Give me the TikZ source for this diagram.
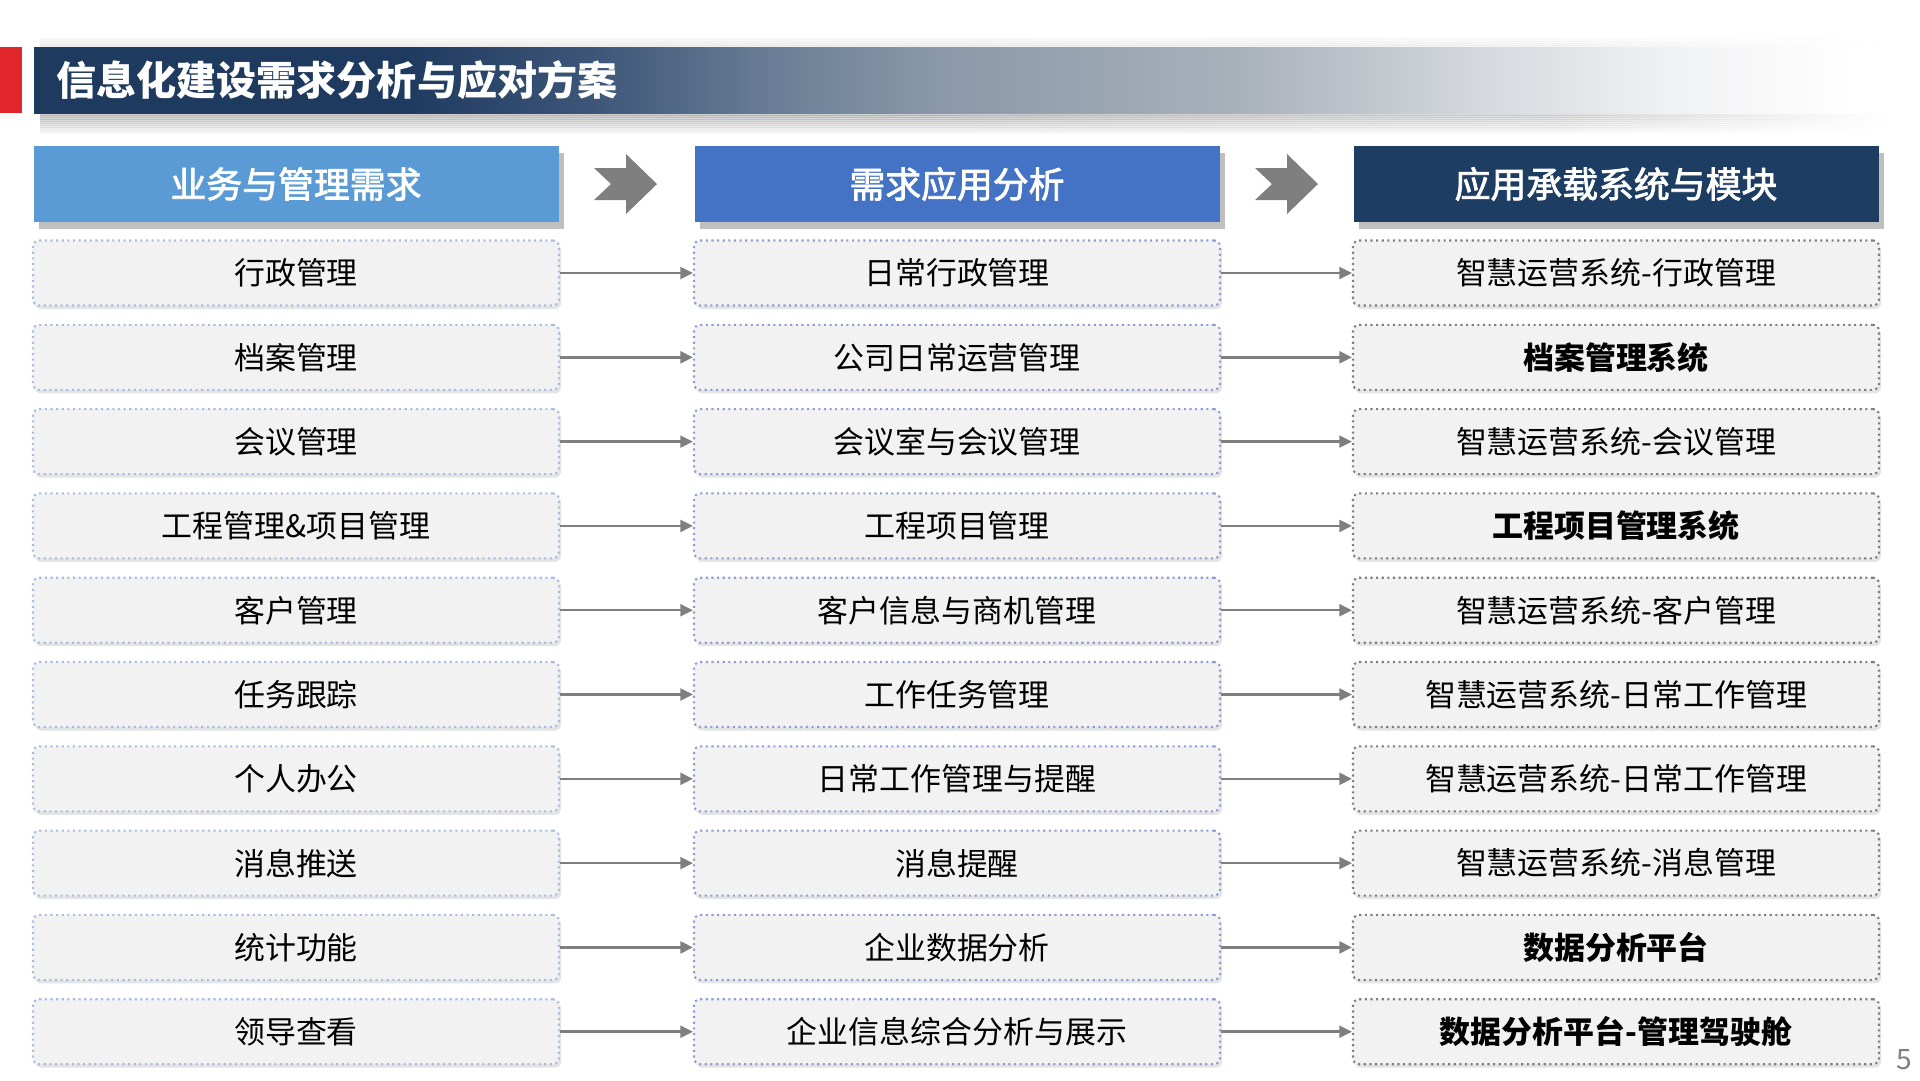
\documentclass[tikz,border=0pt]{standalone}
\usepackage{fontspec}
\setmainfont{Noto Sans CJK SC}
\newfontfamily\headfont{Noto Sans CJK SC}[FakeBold=2.2]
\usepackage{tikz}
\usetikzlibrary{
    arrows.meta, shadows
}
\definecolor{titleRed}{HTML}{E0262B}
\definecolor{titleNavy}{HTML}{1E3A5F}
\definecolor{fadeA}{HTML}{3D5678}
\definecolor{fadeB}{HTML}{6A7F96}
\definecolor{fadeC}{HTML}{8B99AA}
\definecolor{fadeD}{HTML}{A9B1BA}
\definecolor{fadeE}{HTML}{D5D9DD}
\definecolor{fadeF}{HTML}{F0F1F2}
\definecolor{shadeGray}{HTML}{8C8C8C}
\definecolor{headLight}{HTML}{5B9BD5}
\definecolor{headMid}{HTML}{4472C4}
\definecolor{headDark}{HTML}{1E3D63}
\definecolor{boxGray}{HTML}{F2F2F2}
\definecolor{edgeLight}{HTML}{A9BDE3}
\definecolor{edgeMid}{HTML}{8E9DD3}
\definecolor{edgeDark}{HTML}{7F7F7F}
\definecolor{linkGray}{HTML}{7F7F7F}
\pgfdeclarehorizontalshading{titlefade}{100bp}{
    color(0bp)=(titleNavy); color(35bp)=(titleNavy); color(40bp)=(fadeA);
    color(45bp)=(fadeB); color(49.5bp)=(fadeC); color(57.5bp)=(fadeD);
    color(64bp)=(fadeE); color(69bp)=(fadeF); color(74bp)=(white);
    color(100bp)=(white)}
\pgfdeclarehorizontalshading{shadowfade}{100bp}{
    color(0bp)=(shadeGray); color(50bp)=(shadeGray); color(66bp)=(shadeGray!70);
    color(75bp)=(white); color(100bp)=(white)}
\tikzset{
    headbox/.style={minimum width=52.5mm, minimum height=7.6mm, inner sep=0pt,
        text=white, font=\headfont\fontsize{10.2}{12}\selectfont,
        drop shadow={shadow xshift=0.5mm, shadow yshift=-0.7mm, fill=black!25, opacity=1}},
    rowbox/.style={fill=boxGray, densely dotted, line width=0.6pt, rounded corners=0.6mm,
        minimum width=52.6mm, minimum height=6.5mm, inner sep=0pt,
        font=\fontsize{8.8}{10}\selectfont,
        drop shadow={shadow xshift=0.2mm, shadow yshift=-0.35mm, fill=black!30, opacity=0.35}},
    reqbox/.style={rowbox, draw=edgeLight},
    anabox/.style={rowbox, draw=edgeMid},
    sysbox/.style={rowbox, draw=edgeDark},
    link/.style={draw=linkGray, line width=0.7pt, -{Triangle[length=3.6pt, width=3.4pt]}}
}

\begin{document}
\begin{tikzpicture}[x=0.1mm, y=-0.1mm]
    \useasboundingbox (0,0) rectangle (1920,1080);

    % title bar with soft shadow
    \foreach \k in {0,...,9}
        \shade[shading=shadowfade, opacity=0.42-0.04*\k] (40,113+2*\k) rectangle (1890,115+2*\k);
    \foreach \k in {0,...,4}
        \shade[shading=shadowfade, opacity=0.12-0.02*\k] (40,45-2*\k) rectangle (1890,47-2*\k);
    \fill[titleRed] (0,47) rectangle (22,113);
    \shade[shading=titlefade] (34,47) rectangle (1890,113);
    \node[anchor=west, text=white, font=\fontsize{11.4}{13}\selectfont\bfseries] (title) at (44,80) {信息化建设需求分析与应对方案};

    % column heads
    \node[headbox, fill=headLight] (head1) at (296,184) {业务与管理需求};
    \node[headbox, fill=headMid] (head2) at (957,184) {需求应用分析};
    \node[headbox, fill=headDark] (head3) at (1616,184) {应用承载系统与模块};

    \foreach \cx in {626,1287}
        \fill[linkGray] (\cx,184) ++(-32,-16) -- ++(32,0) -- ++(0,-14) -- ++(31,30)
            -- ++(-31,30) -- ++(0,-14) -- ++(-32,0) -- ++(17,-16) -- cycle;

    % rows
    \foreach \req/\ana/\sys [count=\i] in {
        行政管理/日常行政管理/智慧运营系统-行政管理,
        档案管理/公司日常运营管理/{\bfseries 档案管理系统},
        会议管理/会议室与会议管理/智慧运营系统-会议管理,
        工程管理\&项目管理/工程项目管理/{\bfseries 工程项目管理系统},
        客户管理/客户信息与商机管理/智慧运营系统-客户管理,
        任务跟踪/工作任务管理/智慧运营系统-日常工作管理,
        个人办公/日常工作管理与提醒/智慧运营系统-日常工作管理,
        消息推送/消息提醒/智慧运营系统-消息管理,
        统计功能/企业数据分析/{\bfseries 数据分析平台},
        领导查看/企业信息综合分析与展示/{\bfseries 数据分析平台-管理驾驶舱}}
    {
        \node[reqbox] (req\i) at (296,188.7+84.3*\i) {\req};
        \node[anabox] (ana\i) at (957,188.7+84.3*\i) {\ana};
        \node[sysbox] (sys\i) at (1616,188.7+84.3*\i) {\sys};
        \draw[link] (req\i) -- (ana\i);
        \draw[link] (ana\i) -- (sys\i);
    }

    \node[text=linkGray, font=\fontsize{8}{9}\selectfont] (pagenum) at (1904,1060) {5};
\end{tikzpicture}
\end{document}
